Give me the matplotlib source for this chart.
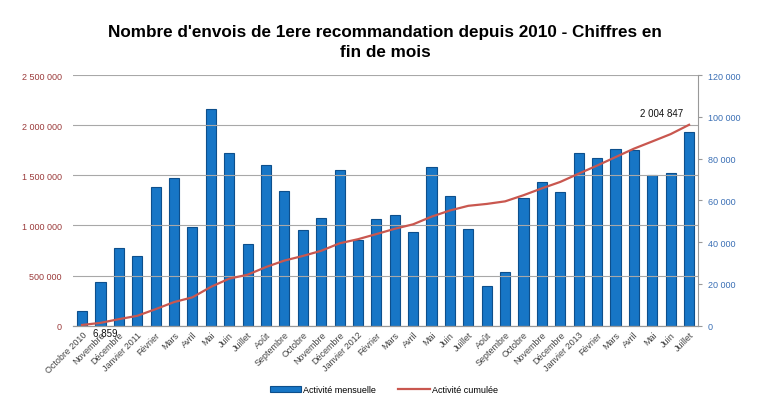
import numpy as np
import matplotlib
matplotlib.use("Agg")
import matplotlib.pyplot as plt
from matplotlib.ticker import FuncFormatter

plt.rcParams['font.family'] = ['Liberation Sans', 'DejaVu Sans']

# -----------------------------
# Données
# -----------------------------
mois = ["Octobre 2010", "Novembre", "Décembre", "Janvier 2011", "Février", "Mars",
        "Avril", "Mai", "Juin", "Juillet", "Août", "Septembre", "Octobre",
        "Novembre", "Décembre", "Janvier 2012", "Février", "Mars", "Avril", "Mai",
        "Juin", "Juillet", "Août", "Septembre", "Octobre", "Novembre", "Décembre",
        "Janvier 2013", "Février", "Mars", "Avril", "Mai", "Juin", "Juillet"]

# envois mensuels (axe de droite)
mensuel = [6859, 20800, 37000, 33500, 66500, 70500, 47400, 104000, 82700, 39000,
           76800, 64500, 45800, 51700, 74700, 40900, 51200, 52800, 44900, 76200,
           61900, 46500, 18800, 25700, 61200, 68688, 64200, 82500, 80400, 84500,
           84100, 72400, 73200, 93000]

# cumul (axe de gauche)
cumul = np.cumsum(mensuel)

titre = "Nombre d'envois de 1ere recommandation depuis 2010 - Chiffres en\nfin de mois"

# -----------------------------
# Figure
# -----------------------------
fig = plt.figure(figsize=(7.75, 4.14), dpi=100)
ax = fig.add_axes([0.094, 0.211, 0.807, 0.605])
ax2 = ax.twinx()

x = np.arange(len(mois))

# barres sur l'axe droit
barres = ax2.bar(x, mensuel, width=0.55, color="#1776c6", edgecolor="#0d4f8c",
                 linewidth=0.8, label="Activité mensuelle", zorder=2)

# courbe cumulée sur l'axe gauche (au-dessus des barres)
ax.set_zorder(ax2.get_zorder() + 1)
ax.patch.set_visible(False)
ligne, = ax.plot(x, cumul, color="#c9574f", linewidth=1.6, label="Activité cumulée")

ax.set_ylim(0, 2500000)
ax.set_yticks(np.arange(0, 2500001, 500000))
ax2.set_ylim(0, 120000)
ax2.set_yticks(np.arange(0, 120001, 20000))
ax.set_xlim(-0.5, len(mois) - 0.5)

fmt = FuncFormatter(lambda v, p: f"{int(v):,}".replace(",", " "))
ax.yaxis.set_major_formatter(fmt)
ax2.yaxis.set_major_formatter(fmt)

ax.grid(axis="y", color="#a8a8a8", linewidth=0.8)
ax.set_axisbelow(True)

ax.tick_params(axis="y", colors="#9b3b3b", labelsize=6.5, length=0, pad=8)
ax2.tick_params(axis="y", colors="#3a6fb5", labelsize=6.5, length=3, pad=4)
ax2.tick_params(axis="y", color="#999999")
ax.set_xticks(x)
ax.set_xticklabels(mois, rotation=45, ha="right", rotation_mode="anchor",
                   fontsize=6.5, color="#444444")
ax.tick_params(axis="x", length=0, pad=3)

for a in (ax, ax2):
    a.spines["top"].set_visible(False)
    a.spines["left"].set_visible(False)
    a.spines["bottom"].set_color("#999999")
ax2.spines["right"].set_color("#999999")
ax.spines["right"].set_visible(False)

# étiquettes de données
ax.annotate(f"{mensuel[0]:,}".replace(",", " "), (x[0], cumul[0]),
            xytext=(8, -2), textcoords="offset points", fontsize=7,
            va="top", ha="left", color="#111111")
ax.annotate(f"{cumul[-1]:,}".replace(",", " "), (x[-1], cumul[-1]),
            xytext=(-4, 5), textcoords="offset points", fontsize=7,
            va="bottom", ha="right", color="#111111")

fig.suptitle(titre, x=0.497, y=0.94, fontsize=12.3, fontweight="bold",
             linespacing=1.4)

fig.legend(handles=[barres, ligne], loc="center", bbox_to_anchor=(0.495, 0.056),
           ncol=2, frameon=False, fontsize=6.5, handlelength=3.5,
           columnspacing=2.5, handletextpad=0.2)

fig.savefig("out.png", dpi=100)
